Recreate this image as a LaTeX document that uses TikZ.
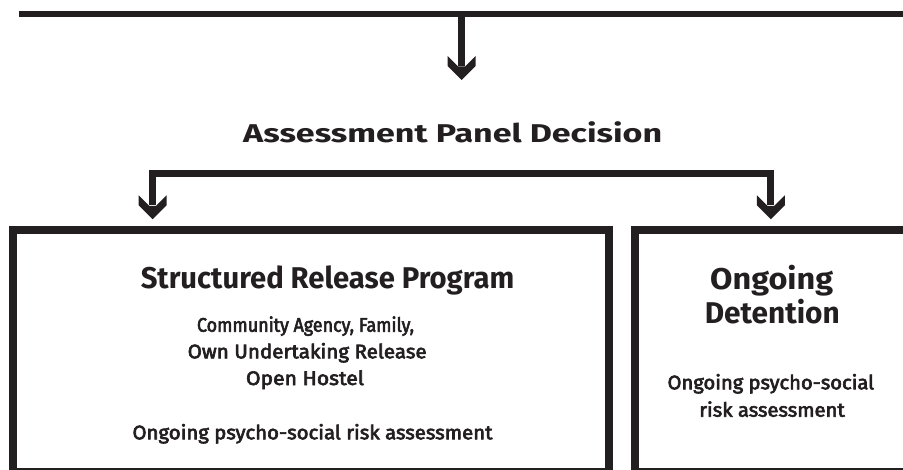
\documentclass[tikz,border=0pt]{standalone}
\usepackage{fontspec}
\usepackage{graphicx}
\setmainfont{Fira Sans}
\newfontfamily\fmed{Fira Sans}[FakeBold=3.2]
\usetikzlibrary{arrows.meta}
\definecolor{ink}{HTML}{231F20}
\pgfdeclarearrow{
  name=Chev,
  setup code={
    \pgfarrowssettipend{0pt}
    \pgfarrowssetlineend{-14pt}
    \pgfarrowssetvisualbackend{-24pt}
    \pgfarrowssetbackend{-24pt}
    \pgfarrowshullpoint{0pt}{0pt}
    \pgfarrowshullpoint{-24pt}{14pt}
    \pgfarrowshullpoint{-24pt}{-14pt}
  },
  drawing code={
    \pgfpathmoveto{\pgfpoint{0pt}{0pt}}
    \pgfpathlineto{\pgfpoint{-14pt}{14pt}}
    \pgfpathlineto{\pgfpoint{-24pt}{14pt}}
    \pgfpathlineto{\pgfpoint{-13.5pt}{3.5pt}}
    \pgfpathlineto{\pgfpoint{-13.5pt}{-3.5pt}}
    \pgfpathlineto{\pgfpoint{-24pt}{-14pt}}
    \pgfpathlineto{\pgfpoint{-14pt}{-14pt}}
    \pgfpathclose
    \pgfusepathqfill
  }
}
\newcommand\fitt[2]{\resizebox{#1}{\height}{#2}}
\newcommand\ttlfont{\fontsize{25.7}{30}\selectfont\bfseries}
\newcommand\hdfont{\fontsize{30}{36}\selectfont\bfseries}
\newcommand\smfont{\fmed\fontsize{19.6}{23}\selectfont}
\begin{document}
\begin{tikzpicture}[x=1pt,y=-1pt,
  txt/.style={inner sep=0pt, outer sep=0pt, text=ink, anchor=base},
  panel/.style={draw=ink, line width=8pt, inner sep=0pt, outer sep=0pt, anchor=north west, line join=miter},
  bar/.style={draw=ink, line width=6.7pt},
  flow/.style={draw=ink, line width=7pt, line join=miter, -Chev}]
\useasboundingbox (0,0) rectangle (903,470);
\clip (0,0) rectangle (903,470);

% top bar and arrow
\coordinate (barL) at (19,14);
\coordinate (barR) at (915,14);
\draw[bar] (barL) -- (barR);
\coordinate (stemtop) at (461.7,14);
\coordinate (tip1) at (461.7,80);
\draw[flow] (stemtop) -- (tip1);

% title
\node[txt] (title) at (452.7,142.7) {\fitt{419pt}{\ttlfont Assessment Panel Decision}};

% boxes
\node[panel, minimum width=596pt, minimum height=242.3pt] (srp) at (13.3,230) {};
\node[panel, minimum width=300pt, minimum height=242.3pt] (det) at (634.5,230) {};

% bracket arrows
\coordinate (lt) at (152.7,219.3);
\coordinate (rt) at (770.8,219.3);
\coordinate (brk) at (0,173.3);
\draw[flow, Chev-Chev] (lt) -- (lt |- brk) -- (rt |- brk) -- (rt);

% left box texts
\node[txt] (h1) at (327.5,288.3) {\fitt{373.5pt}{\hdfont Structured Release Program}};
\node[txt] (l1) at (305.5,331.7) {\fitt{217pt}{\smfont Community Agency, Family,}};
\node[txt] (l2) at (307.2,358.3) {\fitt{239pt}{\smfont Own Undertaking Release}};
\node[txt] (l3) at (305,385) {\fitt{118pt}{\smfont Open Hostel}};
\node[txt] (l4) at (312.5,439.3) {\fitt{360pt}{\smfont Ongoing psycho-social risk assessment}};

% right box texts
\node[txt] (h2) at (771.7,289.3) {\fitt{123pt}{\hdfont Ongoing}};
\node[txt] (h3) at (772.3,323.5) {\fitt{135pt}{\hdfont Detention}};
\node[txt] (r1) at (770.8,389.3) {\fitt{206.5pt}{\smfont Ongoing psycho-social}};
\node[txt] (r2) at (772,416.7) {\fitt{145.5pt}{\smfont risk assessment}};
\end{tikzpicture}
\end{document}
